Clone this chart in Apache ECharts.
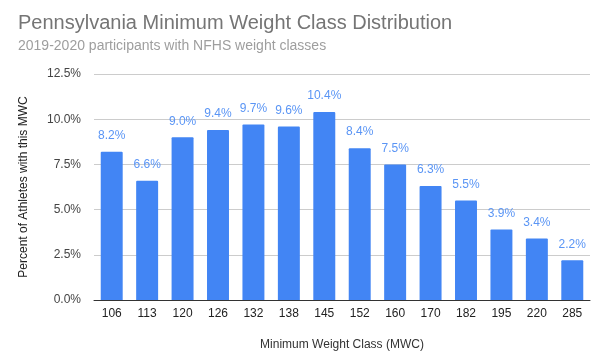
<!DOCTYPE html>
<html><head><meta charset="utf-8">
<script src="https://cdn.jsdelivr.net/npm/echarts@6/dist/echarts.min.js"></script>
<style>html,body{margin:0;padding:0;background:#fff}#c{width:607px;height:358px}</style>
</head><body><div id="c"></div>
<script>
const categories = ['106','113','120','126','132','138','145','152','160','170','182','195','220','285'];
const values = [8.2, 6.6, 9.0, 9.4, 9.7, 9.6, 10.4, 8.4, 7.5, 6.3, 5.5, 3.9, 3.4, 2.2];
const yTicks = [0, 2.5, 5, 7.5, 10, 12.5];
const chart = echarts.init(document.getElementById('c'));
const font = 'Arial, "Liberation Sans", sans-serif';
chart.setOption({
  animation: false,
  title: {
    text: 'Pennsylvania Minimum Weight Class Distribution',
    subtext: '2019-2020 participants with NFHS weight classes',
    left: 13, top: 8, itemGap: 6,
    textStyle: {fontFamily: font, fontSize: 20, fontWeight: 'normal', color: '#757575'},
    subtextStyle: {fontFamily: font, fontSize: 14, color: '#9e9e9e'}
  },
  grid: {left: 94, right: 17, top: 74, bottom: 58},
  xAxis: {
    type: 'category', data: categories,
    name: 'Minimum Weight Class (MWC)', nameLocation: 'middle', nameGap: 39,
    nameTextStyle: {fontFamily: font, fontSize: 12, color: '#333'},
    axisLine: {lineStyle: {color: '#333'}},
    axisTick: {show: false},
    axisLabel: {fontFamily: font, fontSize: 12, color: '#222', margin: 8}
  },
  yAxis: {
    type: 'value', min: yTicks[0], max: yTicks[yTicks.length - 1], interval: 2.5,
    name: 'Percent of Athletes with this MWC', nameLocation: 'middle', nameGap: 64,
    nameTextStyle: {fontFamily: font, fontSize: 12, color: '#222'},
    axisLine: {show: false}, axisTick: {show: false},
    splitLine: {lineStyle: {color: '#ccc'}},
    axisLabel: {fontFamily: font, fontSize: 12, color: '#444', margin: 13,
      formatter: v => v.toFixed(1) + '%'}
  },
  series: [{
    type: 'bar', data: values, barCategoryGap: '38%',
    itemStyle: {color: '#4285f4', borderRadius: [1, 1, 0, 0]},
    label: {show: true, position: 'top', distance: 10, fontFamily: font, fontSize: 12,
      color: '#5a95f5', formatter: p => p.value.toFixed(1) + '%'}
  }]
});
</script></body></html>
